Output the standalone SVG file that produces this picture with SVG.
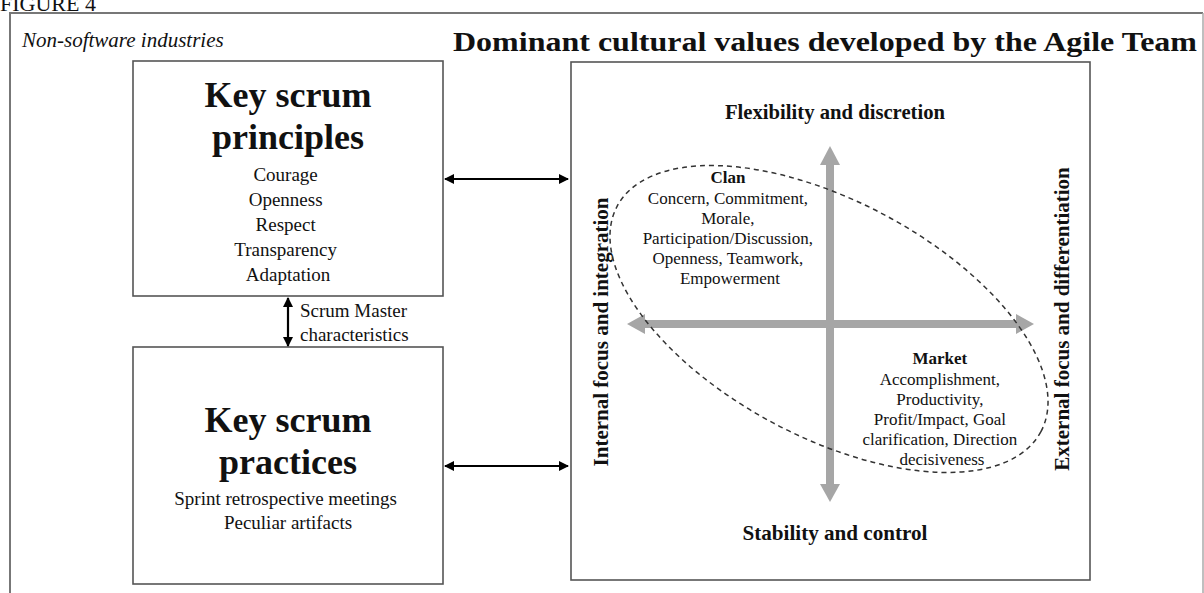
<svg xmlns="http://www.w3.org/2000/svg" width="1204" height="593" viewBox="0 0 1204 593">
<style>
.t{font-family:"Liberation Serif","Times New Roman",serif;fill:#111}
.b{font-weight:bold}
.box{fill:#fff;stroke:#555;stroke-width:1.6}
.conn{stroke:#000;stroke-width:2.2;fill:none}
.gray{fill:#a6a6a6}
</style>
<defs>
<marker id="ah" viewBox="0 0 10 10" refX="9" refY="5" markerWidth="11" markerHeight="10" markerUnits="userSpaceOnUse" orient="auto-start-reverse">
<path d="M0,0 L10,5 L0,10 z" fill="#000"/>
</marker>
</defs>
<rect width="1204" height="593" fill="#fff"/>
<text class="t" x="0" y="11" font-size="22">FIGURE 4</text>
<path d="M10,593 V13 H1203" fill="none" stroke="#777" stroke-width="2"/>
<path d="M1203,13 V593" fill="none" stroke="#aaa" stroke-width="1.5"/>
<text class="t" x="22" y="47" font-size="21" font-style="italic">Non-software industries</text>
<text class="t b" x="453" y="51" font-size="28" textLength="744" lengthAdjust="spacingAndGlyphs">Dominant cultural values developed by the Agile Team</text>

<g id="principles">
<rect class="box" x="133" y="61" width="310" height="235"/>
<text class="t b" x="288" y="107" font-size="36" text-anchor="middle">Key scrum</text>
<text class="t b" x="288" y="149" font-size="36" text-anchor="middle">principles</text>
<text class="t" font-size="19" text-anchor="middle">
<tspan x="288" y="181">Courage</tspan>
<tspan x="288" y="206">Openness</tspan>
<tspan x="288" y="231">Respect</tspan>
<tspan x="288" y="256">Transparency</tspan>
<tspan x="288" y="281">Adaptation</tspan>
</text>
</g>

<g id="practices">
<rect class="box" x="133" y="347" width="310" height="237"/>
<text class="t b" x="288" y="432" font-size="36" text-anchor="middle">Key scrum</text>
<text class="t b" x="288" y="474" font-size="36" text-anchor="middle">practices</text>
<text class="t" font-size="19" text-anchor="middle">
<tspan x="288" y="505">Sprint retrospective meetings</tspan>
<tspan x="288" y="529">Peculiar artifacts</tspan>
</text>
</g>

<g id="values">
<rect class="box" x="571" y="62" width="519" height="518"/>
<text class="t b" x="835" y="119" font-size="21" text-anchor="middle" textLength="220" lengthAdjust="spacingAndGlyphs">Flexibility and discretion</text>
<text class="t b" x="835" y="540" font-size="21" text-anchor="middle" textLength="185" lengthAdjust="spacingAndGlyphs">Stability and control</text>
<text class="t b" font-size="21" text-anchor="middle" transform="translate(608,332) rotate(-90)">Internal focus and integration</text>
<text class="t b" font-size="21" text-anchor="middle" transform="translate(1069,319) rotate(-90)">External focus and differentiation</text>
<g id="axes">
<rect class="gray" x="826" y="163" width="8" height="323"/>
<polygon class="gray" points="830,146 840,165 820,165"/>
<polygon class="gray" points="830,502 840,484 820,484"/>
<rect class="gray" x="643" y="320" width="374" height="8"/>
<polygon class="gray" points="627,324 645,314 645,334"/>
<polygon class="gray" points="1034,324 1016,314 1016,334"/>
</g>
<ellipse cx="829" cy="319" rx="240" ry="118" transform="rotate(28 829 319)" fill="none" stroke="#333" stroke-width="1.5" stroke-dasharray="5 4"/>
<g id="clan">
<text class="t" font-size="17" text-anchor="middle">
<tspan x="730" y="183" font-weight="bold">Clan</tspan>
<tspan x="730" y="204">Concern, Commitment,</tspan>
<tspan x="730" y="224">Morale,</tspan>
<tspan x="730" y="244">Participation/Discussion,</tspan>
<tspan x="730" y="264">Openness, Teamwork,</tspan>
<tspan x="730" y="284">Empowerment</tspan>
</text>
</g>
<g id="market">
<text class="t" font-size="17" text-anchor="middle">
<tspan x="942" y="364" font-weight="bold">Market</tspan>
<tspan x="942" y="385">Accomplishment,</tspan>
<tspan x="942" y="405">Productivity,</tspan>
<tspan x="942" y="425">Profit/Impact, Goal</tspan>
<tspan x="942" y="445">clarification, Direction</tspan>
<tspan x="942" y="465">decisiveness</tspan>
</text>
</g>
</g>

<g id="connectors">
<line class="conn" x1="445" y1="179" x2="568" y2="179" marker-start="url(#ah)" marker-end="url(#ah)"/>
<line class="conn" x1="445" y1="466" x2="568" y2="466" marker-start="url(#ah)" marker-end="url(#ah)"/>
<line class="conn" x1="288" y1="298" x2="288" y2="346" marker-start="url(#ah)" marker-end="url(#ah)"/>
<text class="t" font-size="19">
<tspan x="300" y="317">Scrum Master</tspan>
<tspan x="300" y="341">characteristics</tspan>
</text>
</g>
</svg>
